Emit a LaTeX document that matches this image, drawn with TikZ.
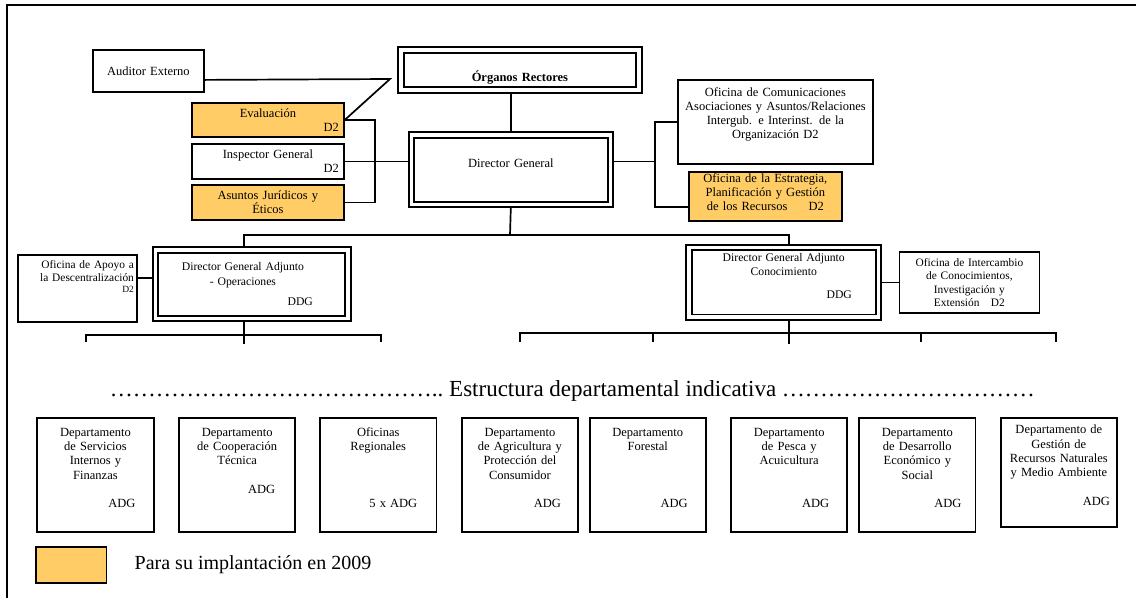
\documentclass[tikz,border=0pt]{standalone}
\usepackage{fontspec}
\setmainfont{Liberation Serif}
\usetikzlibrary{backgrounds}
\definecolor{orange2009}{HTML}{FFCC66}
\newcommand\adg[2][15]{\makebox[\linewidth][r]{#2\rule{#1pt}{0pt}}}
\newcommand\edots{…}
\tikzset{
  box/.style={draw, line width=1.8pt, inner sep=0pt, anchor=north west, align=center,
    font=\fontsize{12.5}{14}\selectfont},
  dbox/.style={box, line width=1.8pt, double=white, double distance=3.6pt},
  later/.style={fill=orange2009},
  mid/.style={font=\fontsize{11.7}{13.5}\selectfont},
  small/.style={font=\fontsize{11.4}{13.2}\selectfont},
  dept/.style={box, minimum width=116.3pt, minimum height=113.4pt, text width=110pt,
    font=\fontsize{12.5}{14.3}\selectfont},
  wh/.style n args={3}{minimum width=#1pt, minimum height=#2pt, text width=#3pt},
  txt/.style={inner sep=0pt, anchor=base west},
  link/.style={line width=1.7pt},
}
\begin{document}
\begin{tikzpicture}[x=1pt, y=-1pt]
\useasboundingbox (0,0) rectangle (1136,598);
% frame
\draw[line width=1.7pt] (7,598) -- (7,5) -- (1136,5);

% top level
\node[box, wh={111}{42}{105}] (auditor) at (92,49) {Auditor Externo};
\node[dbox, wh={238}{40}{220}, text height=24pt, text depth=0pt] (organos) at (400,49) {\textbf{Órganos Rectores}};
\node[box, later, wh={152}{34}{142}] (evaluacion) at (191,102) {Evaluación\\\adg[0]{D2}};
\node[box, wh={152}{35}{142}] (inspector) at (191,143) {Inspector General\\\adg[0]{D2}};
\node[box, later, wh={152}{35}{142}] (juridicos) at (191,184) {Asuntos Jurídicos y\\Éticos};
\node[dbox, wh={199}{69.5}{185}, text height=8.5pt, text depth=12pt] (director) at (410.5,134) {Director General};
\node[box, wh={195}{84}{189}] (comunic) at (677,79) {Oficina de Comunicaciones\\Asociaciones y Asuntos/Relaciones\\Intergub. e Interinst. de la\\Organización D2\\[3pt]\mbox{}};
\node[box, later, wh={153}{49}{147}] (estrategia) at (688,171) {Oficina de la Estrategia,\\Planificación y Gestión\\de los Recursos\hspace{1.7em}D2\\[-6pt]\mbox{}};

% adjuntos
\node[dbox, mid, wh={192.5}{68.5}{176}] (dgo) at (154.5,249) {Director General Adjunto\rule{17.5pt}{0pt}\\[1.5pt]- Operaciones\rule{17.5pt}{0pt}\\[6.5pt]\adg[26.75]{DDG}};
\node[dbox, mid, wh={189.7}{69.5}{176}] (dgc) at (688,246.7) {Director General Adjunto\\Conocimiento\\[10pt]\adg[19.85]{DDG}\\[-1.4pt]\mbox{}};
\node[box, small, align=right, wh={119}{67}{113}] (apoyo) at (17,254) {Oficina de Apoyo a\\la Descentralización\\[-3pt]{\fontsize{9.5}{10}\selectfont D2}\\[11pt]\mbox{}};
\node[box, small, wh={140}{61.5}{134}] (intercambio) at (898.5,250.8) {Oficina de Intercambio\\de Conocimientos,\\Investigación y\\Extensión\hspace{1em}D2};

% departamentos
\node[txt, font=\fontsize{23}{27}\selectfont] (estructura) at (109.75,396) {%
\edots\edots\edots\edots\edots\edots\edots%
\edots\edots\edots\edots\edots\edots\edots..~Estructura departamental indicativa %
\edots\edots\edots\edots\edots\edots%
\edots\edots\edots\edots\edots};
\node[dept] (dep1) at (36.4,417.3) {Departamento\\de Servicios\\Internos y\\Finanzas\\\mbox{}\\\adg{ADG}\\\mbox{}};
\node[dept] (dep2) at (178.1,417.3) {Departamento\\de Cooperación\\Técnica\\\mbox{}\\\adg[17]{ADG}\\\mbox{}\\\mbox{}};
\node[dept] (dep3) at (319.2,417.3) {Oficinas\\Regionales\\\mbox{}\\\mbox{}\\\mbox{}\\\adg[16]{5 x ADG}\\\mbox{}};
\node[dept] (dep4) at (460.9,417.3) {Departamento\\de Agricultura y\\Protección del\\Consumidor\\\mbox{}\\\adg[14]{ADG}\\\mbox{}};
\node[dept] (dep5) at (588.7,417.3) {Departamento\\Forestal\\\mbox{}\\\mbox{}\\\mbox{}\\\adg{ADG}\\\mbox{}};
\node[dept] (dep6) at (730.1,417.3) {Departamento\\de Pesca y\\Acuicultura\\\mbox{}\\\mbox{}\\\adg{ADG}\\\mbox{}};
\node[dept] (dep7) at (858.3,417.3) {Departamento\\de Desarrollo\\Económico y\\Social\\\mbox{}\\\adg[11]{ADG}\\\mbox{}};
\node[dept, minimum height=108.4pt] (dep8) at (999.8,417.3) {Departamento de\\Gestión de\\Recursos Naturales\\y Medio Ambiente\\\mbox{}\\\adg[4]{ADG}\\\mbox{}};

% legend
\node[box, later, wh={70.2}{35.8}{60}] (legend) at (35.3,545.9) {};
\node[txt, font=\fontsize{20}{24}\selectfont] (legendT) at (134.5,569) {Para su implantación en 2009};

% connectors
\begin{scope}[on background layer]
\begin{scope}[link]
\coordinate (audK) at (390,79);
\draw ([yshift=-9pt]auditor.east) -- (audK) -- (evaluacion.east);
\draw (evaluacion.east) -- ++(30,0) |- (juridicos.east);
\draw (inspector.east) -- (inspector.east -| director.west);
\draw (organos.south -| director.north) -- (director.north);
\coordinate (rbr) at (655,0);
\coordinate (estrK) at ([yshift=-10.5pt]estrategia.west);
\draw (director.east |- inspector.east) -- (rbr |- inspector.east);
\draw (comunic.west) -- (comunic.west -| rbr) -- (rbr |- estrK) -- (estrK);
\coordinate (busT) at (510,235);
\draw (director.south) -- (busT);
\draw ([xshift=-7.75pt]dgo.north) |- (busT) -| ([xshift=5.15pt]dgc.north);
\draw ([yshift=10.5pt]apoyo.east) -- ([yshift=10.5pt]apoyo.east -| dgo.west);
\draw (dgc.east) -- (dgc.east -| intercambio.west);
% lower buses
\draw ([xshift=-7.75pt]dgo.south) -- ++(0,17.5) coordinate (busL);
\draw (86,342) |- (381,335) -- (381,342);
\draw (busL) -- ++(0,7);
\draw ([xshift=5.15pt]dgc.south) -- ++(0,16.8) coordinate (busR);
\draw (520,342) |- (1056,333) -- (1056,342);
\draw (busR) -- ++(0,9);
\draw (653,333) -- (653,342);
\draw (921,333) -- (921,342);
\end{scope}
\end{scope}
\end{tikzpicture}
\end{document}
